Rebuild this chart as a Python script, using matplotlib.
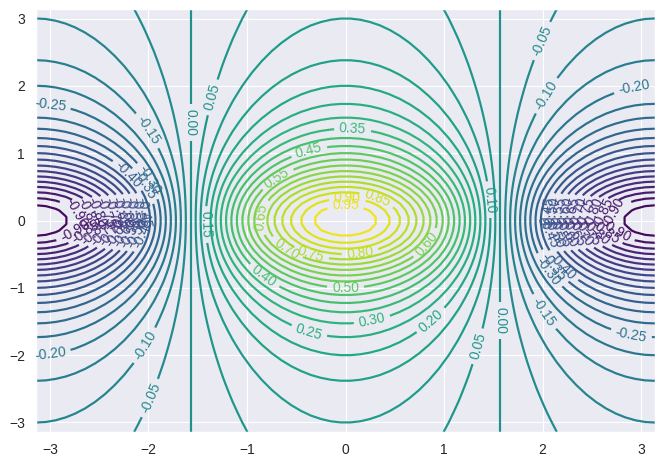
import numpy as np
import matplotlib
matplotlib.use("Agg")
import matplotlib.pyplot as plt
import seaborn as sns

sns.set_theme(style="darkgrid")
plt.rcParams['font.family'] = ['Liberation Sans', 'DejaVu Sans']

# grid coordinates
x_vals = np.linspace(-np.pi, np.pi, 64)
y_vals = np.linspace(-np.pi, np.pi, 64)
# field: cos(x) modulated by 1/(1+y^2)
x_profile = np.cos(x_vals)
y_profile = 1.0 / (1.0 + y_vals ** 2)
n_levels = 40
ticks = [-3, -2, -1, 0, 1, 2, 3]

X, Y = np.meshgrid(x_vals, y_vals)
Z = np.outer(y_profile, x_profile)

# label anchors: (level, y, side) -> point on that level's contour
label_spots = [
    (0.95, 0.23, 1), (0.90, 0.333, 1), (0.85, 0.34, 1), (0.80, -0.486, 1),
    (0.75, -0.502, -1), (0.70, -0.423, -1), (0.65, 0.05, -1), (0.60, -0.354, 1),
    (0.55, 0.63, -1), (0.50, -1.0, 1), (0.45, 1.035, -1), (0.40, -0.83, -1),
    (0.35, 1.36, 1), (0.30, -1.4875, 1), (0.25, -1.652, -1), (0.20, -1.49, 1),
    (0.15, -0.06, -1), (0.10, 0.31, 1), (0.05, 1.83, -1), (0.05, -1.87, 1),
    (0.00, 1.46, -1), (0.00, -1.49, 1), (-0.05, 2.67, 1), (-0.05, -2.64, -1),
    (-0.10, 1.86, 1), (-0.10, -1.86, -1), (-0.15, 1.34, -1), (-0.15, -1.36, 1),
    (-0.20, 1.972, 1), (-0.20, -1.987, -1), (-0.25, 1.72, -1), (-0.25, -1.698, 1),
    (-0.40, 0.686, -1), (-0.40, -0.686, 1), (-0.35, 0.53, -1), (-0.30, 0.60, -1),
    (-0.35, -0.69, 1), (-0.30, -0.75, 1),
]
for lev in np.arange(-0.90, -0.449, 0.05):
    for yy in (0.12, -0.16):
        for side in (-1, 1):
            label_spots.append((round(lev, 2), yy, side))


def on_contour(level, yy, side):
    c = np.clip(level * (1.0 + yy ** 2), -1.0, 1.0)
    return (side * np.arccos(c), yy)


DPI = 83.125
fig = plt.figure(figsize=(665 / DPI, 467 / DPI), dpi=DPI)
ax = fig.add_axes([36 / 665, 35 / 467, 619 / 665, 423 / 467])
cs = ax.contour(X, Y, Z, n_levels, cmap='viridis', linewidths=1.9)
positions = [on_contour(*s) for s in label_spots]
ax.clabel(cs, inline=True, fontsize=12, fmt='%.2f', manual=positions)
ax.set_xticks(ticks)
ax.set_yticks(ticks)
ax.set_xlim(-np.pi, np.pi)
ax.set_ylim(-np.pi, np.pi)
ax.tick_params(labelsize=12)
fig.savefig("out.png", dpi=DPI)
